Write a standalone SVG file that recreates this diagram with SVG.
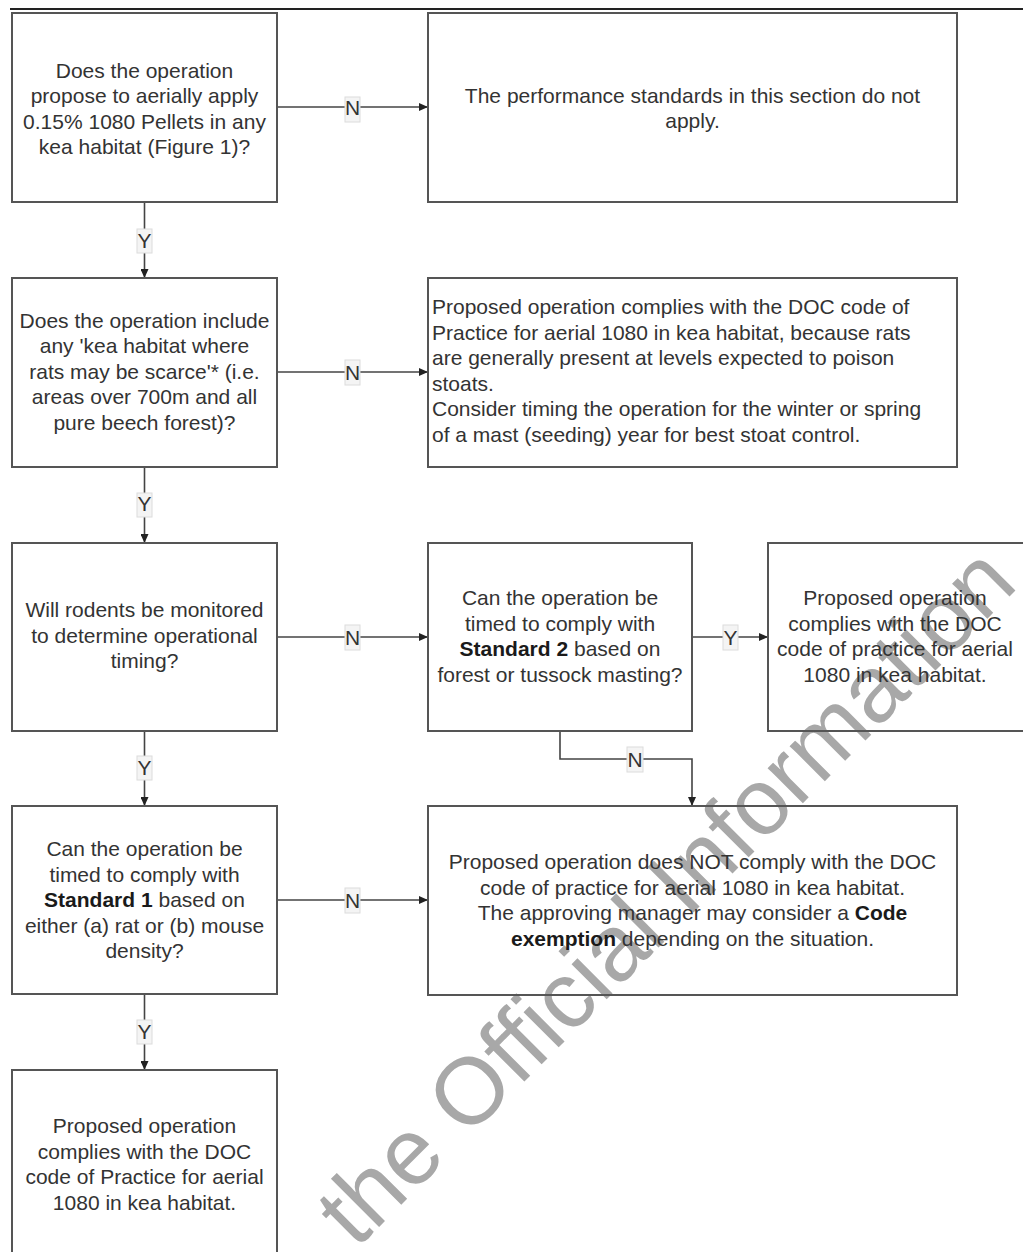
<svg xmlns="http://www.w3.org/2000/svg" width="1023" height="1252" viewBox="0 0 1023 1252">
<style>
.box{fill:none;stroke:#555;stroke-width:2}
.t{font-family:"Liberation Sans",Arial,sans-serif;font-size:21px;fill:#333}
.c{text-anchor:middle}
.b{font-weight:bold;fill:#1a1a1a}
.conn{fill:none;stroke:#444;stroke-width:1.6}
.lblbg{fill:#f4f4f4;stroke:#dcdcdc;stroke-width:1}
.lbl{font-family:"Liberation Sans",Arial,sans-serif;font-size:21px;fill:#333;text-anchor:middle}
.wm{font-family:"Liberation Sans",Arial,sans-serif;font-size:94px;fill:#a8a8a8;stroke:#fff;stroke-width:2;paint-order:stroke}
</style>
<defs>
<marker id="arr" markerUnits="userSpaceOnUse" markerWidth="9" markerHeight="8" refX="9" refY="4" orient="auto">
<path d="M0,0 L9,4 L0,8 z" fill="#222"/>
</marker>
</defs>
<rect x="0" y="0" width="1023" height="1252" fill="#fff"/>
<text class="wm" transform="translate(356,1250) rotate(-45)">the Official Information</text>
<line x1="10" y1="9" x2="1023" y2="9" stroke="#222" stroke-width="2"/>

<g id="connectors">
<line class="conn" x1="277" y1="107" x2="428" y2="107" marker-end="url(#arr)"/>
<line class="conn" x1="144.5" y1="202" x2="144.5" y2="278" marker-end="url(#arr)"/>
<line class="conn" x1="277" y1="372" x2="428" y2="372" marker-end="url(#arr)"/>
<line class="conn" x1="144.5" y1="467" x2="144.5" y2="543" marker-end="url(#arr)"/>
<line class="conn" x1="277" y1="637" x2="428" y2="637" marker-end="url(#arr)"/>
<line class="conn" x1="692" y1="637" x2="768" y2="637" marker-end="url(#arr)"/>
<path class="conn" d="M560,731 V759 H692 V806" marker-end="url(#arr)"/>
<line class="conn" x1="144.5" y1="731" x2="144.5" y2="806" marker-end="url(#arr)"/>
<line class="conn" x1="277" y1="900" x2="428" y2="900" marker-end="url(#arr)"/>
<line class="conn" x1="144.5" y1="994" x2="144.5" y2="1070" marker-end="url(#arr)"/>
<rect class="lblbg" x="345" y="97" width="15" height="25"/><text class="lbl" x="352.5" y="115">N</text>
<rect class="lblbg" x="137" y="229" width="15" height="24"/><text class="lbl" x="144.5" y="248">Y</text>
<rect class="lblbg" x="345" y="360" width="15" height="25"/><text class="lbl" x="352.5" y="379.5">N</text>
<rect class="lblbg" x="137" y="493" width="15" height="24"/><text class="lbl" x="144.5" y="511">Y</text>
<rect class="lblbg" x="345" y="625" width="15" height="25"/><text class="lbl" x="352.5" y="644.5">N</text>
<rect class="lblbg" x="723" y="625" width="15" height="25"/><text class="lbl" x="730.5" y="644.5">Y</text>
<rect class="lblbg" x="627" y="747" width="16" height="25"/><text class="lbl" x="635" y="766.5">N</text>
<rect class="lblbg" x="137" y="756" width="15" height="24"/><text class="lbl" x="144.5" y="774.5">Y</text>
<rect class="lblbg" x="345" y="888" width="15" height="25"/><text class="lbl" x="352.5" y="907.5">N</text>
<rect class="lblbg" x="137" y="1020" width="15" height="24"/><text class="lbl" x="144.5" y="1039">Y</text>
</g>

<g id="q1">
<rect class="box" x="12" y="13" width="265" height="189"/>
<text class="t c" x="144.5" y="77.5">Does the operation</text>
<text class="t c" x="144.5" y="103">propose to aerially apply</text>
<text class="t c" x="144.5" y="128.5">0.15% 1080 Pellets in any</text>
<text class="t c" x="144.5" y="154">kea habitat (Figure 1)?</text>
</g>

<g id="r1">
<rect class="box" x="428" y="13" width="529" height="189"/>
<text class="t c" x="692.5" y="102.5">The performance standards in this section do not</text>
<text class="t c" x="692.5" y="128">apply.</text>
</g>

<g id="q2">
<rect class="box" x="12" y="278" width="265" height="189"/>
<text class="t c" x="144.5" y="327.5">Does the operation include</text>
<text class="t c" x="144.5" y="353">any 'kea habitat where</text>
<text class="t c" x="144.5" y="378.5">rats may be scarce'* (i.e.</text>
<text class="t c" x="144.5" y="404">areas over 700m and all</text>
<text class="t c" x="144.5" y="429.5">pure beech forest)?</text>
</g>

<g id="r2">
<rect class="box" x="428" y="278" width="529" height="189"/>
<text class="t" x="432" y="314">Proposed operation complies with the DOC code of</text>
<text class="t" x="432" y="339.5">Practice for aerial 1080 in kea habitat, because rats</text>
<text class="t" x="432" y="365">are generally present at levels expected to poison</text>
<text class="t" x="432" y="390.5">stoats.</text>
<text class="t" x="432" y="416">Consider timing the operation for the winter or spring</text>
<text class="t" x="432" y="441.5">of a mast (seeding) year for best stoat control.</text>
</g>

<g id="q3">
<rect class="box" x="12" y="543" width="265" height="188"/>
<text class="t c" x="144.5" y="617">Will rodents be monitored</text>
<text class="t c" x="144.5" y="642.5">to determine operational</text>
<text class="t c" x="144.5" y="668">timing?</text>
</g>

<g id="q4">
<rect class="box" x="428" y="543" width="264" height="188"/>
<text class="t c" x="560" y="605">Can the operation be</text>
<text class="t c" x="560" y="630.5">timed to comply with</text>
<text class="t c" x="560" y="656"><tspan class="b">Standard 2</tspan> based on</text>
<text class="t c" x="560" y="681.5">forest or tussock masting?</text>
</g>

<g id="r3">
<rect class="box" x="768" y="543" width="265" height="188"/>
<text class="t c" x="895" y="605">Proposed operation</text>
<text class="t c" x="895" y="630.5">complies with the DOC</text>
<text class="t c" x="895" y="656">code of practice for aerial</text>
<text class="t c" x="895" y="681.5">1080 in kea habitat.</text>
</g>

<g id="q5">
<rect class="box" x="12" y="806" width="265" height="188"/>
<text class="t c" x="144.5" y="856">Can the operation be</text>
<text class="t c" x="144.5" y="881.5">timed to comply with</text>
<text class="t c" x="144.5" y="907"><tspan class="b">Standard 1</tspan> based on</text>
<text class="t c" x="144.5" y="932.5">either (a) rat or (b) mouse</text>
<text class="t c" x="144.5" y="958">density?</text>
</g>

<g id="r4">
<rect class="box" x="428" y="806" width="529" height="189"/>
<text class="t c" x="692.5" y="869">Proposed operation does NOT comply with the DOC</text>
<text class="t c" x="692.5" y="894.5">code of practice for aerial 1080 in kea habitat.</text>
<text class="t c" x="692.5" y="920">The approving manager may consider a <tspan class="b">Code</tspan></text>
<text class="t c" x="692.5" y="945.5"><tspan class="b">exemption</tspan> depending on the situation.</text>
</g>

<g id="r5">
<rect class="box" x="12" y="1070" width="265" height="190"/>
<text class="t c" x="144.5" y="1132.5">Proposed operation</text>
<text class="t c" x="144.5" y="1158.5">complies with the DOC</text>
<text class="t c" x="144.5" y="1184">code of Practice for aerial</text>
<text class="t c" x="144.5" y="1209.5">1080 in kea habitat.</text>
</g>
</svg>
